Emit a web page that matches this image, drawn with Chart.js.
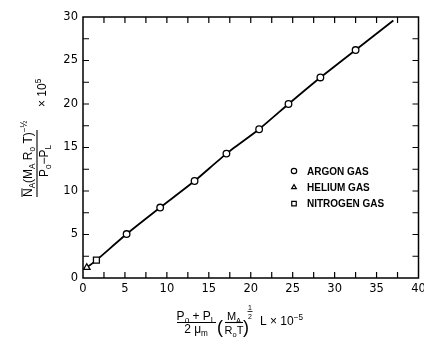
<!DOCTYPE html>
<html>
<head>
<meta charset="utf-8">
<script src="https://cdn.jsdelivr.net/npm/chart.js@4/dist/chart.umd.min.js"></script>
<style>
  html, body { margin: 0; padding: 0; background: #fff; }
  canvas { display: block; }
</style>
</head>
<body>
<canvas id="flowChart" width="424" height="338"></canvas>
<script>
// ==== DATA ====
const argonX = [5.2, 9.2, 13.3, 17.1, 21.0, 24.5, 28.3, 32.5];
const argonY = [5.05, 8.1, 11.15, 14.3, 17.1, 20.0, 23.05, 26.2];
const heliumX = [0.45];
const heliumY = [1.2];
const nitrogenX = [1.6];
const nitrogenY = [2.05];
const fitX = [0.45, 1.6, 5.2, 9.2, 13.3, 17.1, 21.0, 24.5, 28.3, 32.5, 37.0];
const fitY = [1.2, 2.05, 5.05, 8.1, 11.15, 14.3, 17.1, 20.0, 23.05, 26.2, 29.6];
const xTickLabels = [0, 5, 10, 15, 20, 25, 30, 35, 40];
const yTickLabels = [0, 5, 10, 15, 20, 25, 30];
const legendNames = ['ARGON GAS', 'HELIUM GAS', 'NITROGEN GAS'];

const FONT = "'Liberation Sans', Arial, sans-serif";
const toPts = (xs, ys) => xs.map((x, i) => ({ x: x, y: ys[i] }));

// ==== RICH TEXT HELPER (sub / sup) ====
function rich(ctx, x, y, parts, size, measureOnly) {
  let cx = x;
  for (const [t, k] of parts) {
    const s = k === 'n' ? size : size * 0.68;
    ctx.font = s + 'px ' + FONT;
    const dy = k === 'sub' ? size * 0.26 : k === 'sup' ? -size * 0.45 : 0;
    if (!measureOnly) ctx.fillText(t, cx, y + dy);
    cx += ctx.measureText(t).width;
  }
  return cx - x;
}
function richCentered(ctx, cx, y, parts, size) {
  const w = rich(ctx, 0, 0, parts, size, true);
  rich(ctx, cx - w / 2, y, parts, size);
}
function hline(ctx, x1, x2, y, w) {
  ctx.beginPath();
  ctx.lineWidth = w || 1.1;
  ctx.moveTo(x1, y);
  ctx.lineTo(x2, y);
  ctx.stroke();
}

// ==== FRAME + INWARD TICKS ====
const frameTicks = {
  id: 'frameTicks',
  beforeDatasetsDraw(chart) {
    const ctx = chart.ctx;
    const { left, right, top, bottom } = chart.chartArea;
    const xs = chart.scales.x, ys = chart.scales.y;
    ctx.save();
    ctx.strokeStyle = '#000';
    ctx.lineWidth = 1.5;
    ctx.strokeRect(left, top, right - left, bottom - top);
    ctx.lineWidth = 1.2;
    ctx.beginPath();
    for (let v = 2.5; v < 40; v += 2.5) {
      const px = xs.getPixelForValue(v);
      ctx.moveTo(px, bottom); ctx.lineTo(px, bottom - 6);
      ctx.moveTo(px, top); ctx.lineTo(px, top + 6);
    }
    for (let v = 2.5; v < 30; v += 2.5) {
      const py = ys.getPixelForValue(v);
      ctx.moveTo(left, py); ctx.lineTo(left + 6, py);
      ctx.moveTo(right, py); ctx.lineTo(right - 6, py);
    }
    ctx.stroke();
    ctx.restore();
  },
  afterDraw(chart) {
    const ctx = chart.ctx;
    const { left, top } = chart.chartArea;
    ctx.save();
    ctx.strokeStyle = '#000';
    ctx.textBaseline = 'alphabetic';

    // legend
    const styles = ['circle', 'triangle', 'rect'];
    const lx = left + 211, ly = top + 154;
    styles.forEach((st, i) => {
      const y = ly + i * 16.3;
      ctx.lineWidth = 1.2;
      ctx.fillStyle = '#fff';
      Chart.helpers.drawPoint(ctx, { pointStyle: st, radius: st === 'rect' ? 3.2 : 2.7, borderWidth: 1.2 }, lx, y);
      ctx.fillStyle = '#000';
      ctx.font = 'bold 10px ' + "'Liberation Sans Narrow', " + FONT;
      ctx.fillText(legendNames[i], lx + 13, y + 3.8);
    });
    ctx.fillStyle = '#000';

    // y axis title (rotated)
    ctx.save();
    ctx.translate(37, 163);
    ctx.rotate(-Math.PI / 2);
    hline(ctx, -34, 33, 0);
    const nw = rich(ctx, -34, -5, [['N', 'n']], 12, true);
    hline(ctx, -34, -34 + nw, -15, 1);
    rich(ctx, -34, -5, [['N', 'n'], ['A', 'sub'], ['(M', 'n'], ['A', 'sub'], [' R', 'n'], ['o', 'sub'], [' T)', 'n'], ['\u2212\u00bd', 'sup']], 12);
    richCentered(ctx, 2, 11, [['P', 'n'], ['o', 'sub'], ['\u2212P', 'n'], ['L', 'sub']], 12);
    rich(ctx, 56, 9, [['\u00d7 10', 'n'], ['5', 'sup']], 12);
    ctx.restore();

    // x axis title
    richCentered(ctx, 196, 320, [['P', 'n'], ['o', 'sub'], [' + P', 'n'], ['L', 'sub']], 12);
    hline(ctx, 177, 216, 322.5);
    richCentered(ctx, 196, 333, [['2 \u03bc', 'n'], ['m', 'sub']], 12);
    ctx.font = '18px ' + FONT;
    ctx.fillText('(', 217, 333);
    ctx.fillText(')', 243, 333);
    richCentered(ctx, 234, 320, [['M', 'n'], ['A', 'sub']], 11);
    hline(ctx, 225, 243, 322.5);
    richCentered(ctx, 234, 334, [['R', 'n'], ['o', 'sub'], ['T', 'n']], 11);
    ctx.font = '7px ' + FONT;
    ctx.textAlign = 'center';
    ctx.fillText('1', 250, 310);
    ctx.fillText('2', 250, 318.5);
    ctx.textAlign = 'left';
    hline(ctx, 247.5, 252.5, 311.5, 0.8);
    rich(ctx, 260, 325, [['L \u00d7 10', 'n'], ['\u22125', 'sup']], 12);
    ctx.restore();
  }
};

const marker = { backgroundColor: '#fff', borderColor: '#000', borderWidth: 1.3 };

new Chart(document.getElementById('flowChart').getContext('2d'), {
  type: 'scatter',
  data: {
    datasets: [
      { label: legendNames[0], data: toPts(argonX, argonY), pointStyle: 'circle', pointRadius: 3.3, ...marker },
      { label: legendNames[1], data: toPts(heliumX, heliumY), pointStyle: 'triangle', pointRadius: 3.8, ...marker },
      { label: legendNames[2], data: toPts(nitrogenX, nitrogenY), pointStyle: 'rect', pointRadius: 4.2, ...marker },
      { label: 'fit', type: 'line', data: toPts(fitX, fitY), borderColor: '#000', borderWidth: 1.8,
        pointRadius: 0, tension: 0.15, fill: false }
    ]
  },
  options: {
    responsive: false,
    animation: false,
    devicePixelRatio: 1,
    layout: { padding: { top: 17, right: 5, left: 0, bottom: 0 } },
    plugins: { legend: { display: false }, tooltip: { enabled: false } },
    scales: {
      x: {
        type: 'linear', min: 0, max: 40,
        grid: { display: false, drawTicks: false }, border: { display: false },
        afterBuildTicks: s => { s.ticks = xTickLabels.map(v => ({ value: v })); },
        ticks: { color: '#000', padding: 4, maxRotation: 0, font: { family: 'DejaVu Sans', size: 11.5 } },
        afterFit: s => { s.height = 60; s.paddingLeft = 0; s.paddingRight = 0; }
      },
      y: {
        type: 'linear', min: 0, max: 30,
        grid: { display: false, drawTicks: false }, border: { display: false },
        afterBuildTicks: s => { s.ticks = yTickLabels.map(v => ({ value: v })); },
        ticks: { color: '#000', padding: 5, font: { family: 'DejaVu Sans', size: 11.5 } },
        afterFit: s => { s.width = 83; s.paddingTop = 0; s.paddingBottom = 0; }
      }
    }
  },
  plugins: [frameTicks]
});
</script>
</body>
</html>
